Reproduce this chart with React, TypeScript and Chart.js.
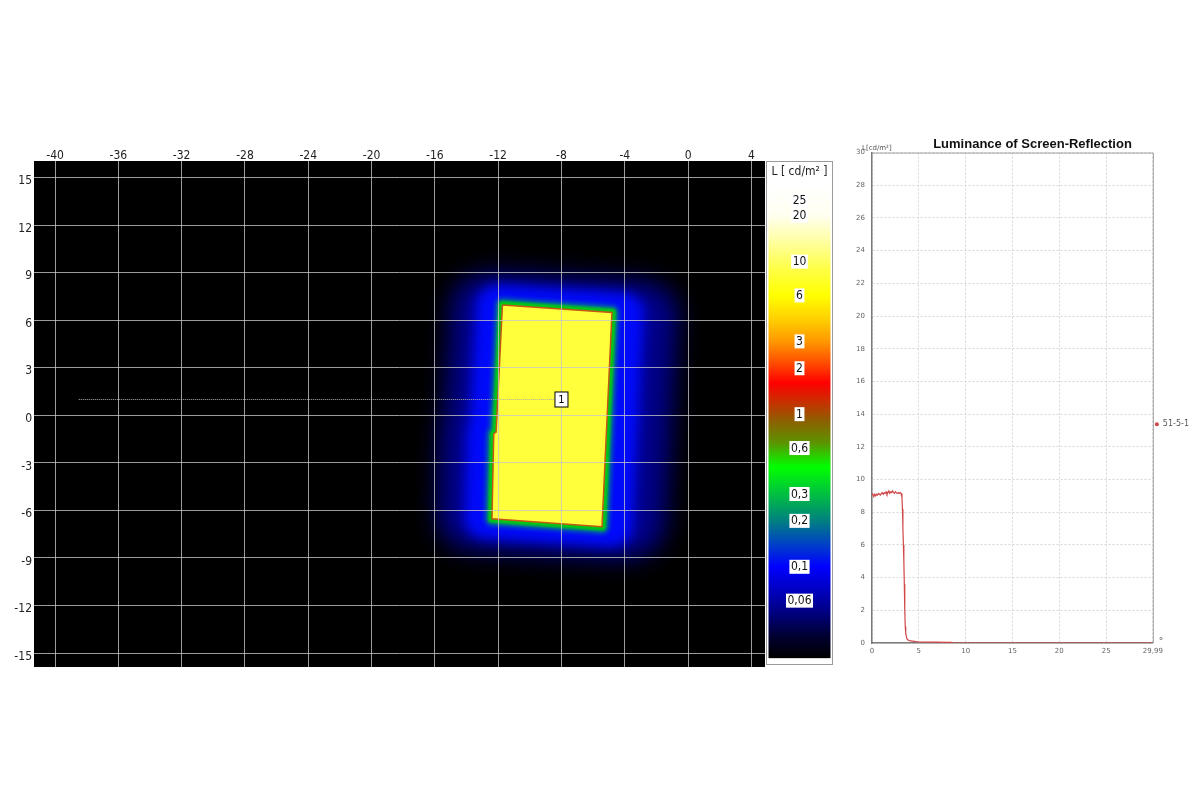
import React, { useEffect, useRef } from "react";
import { Chart, registerables } from "chart.js";

Chart.register(...registerables);

// ---------------- Left: luminance map (degrees) ----------------
const mapXTicks = [-40, -36, -32, -28, -24, -20, -16, -12, -8, -4, 0, 4];
const mapYTicks = [15, 12, 9, 6, 3, 0, -3, -6, -9, -12, -15];
const mapXMin = -41.33;
const mapXMax = 4.86;
const mapYMin = -15.88;
const mapYMax = 16.05;

// outline of the bright screen reflection
const screenX = [-11.73, -4.81, -5.44, -12.39, -12.28, -12.13, -11.73];
const screenY = [6.96, 6.49, -7.03, -6.53, -1.16, -1.06, 6.96];

// measurement line "1"
const lineX = [-38.5, -8];
const lineY = [1.0, 1.0];
const lineLabel = "1";

// colour bar (logarithmic luminance scale)
const cbTitle = "L [ cd/m\u00B2 ]";
const cbMin = 0.02205;
const cbMax = 45.6;
const cbTickValues = [25, 20, 10, 6, 3, 2, 1, 0.6, 0.3, 0.2, 0.1, 0.06];
const cbTickLabels = ["25", "20", "10", "6", "3", "2", "1", "0,6", "0,3", "0,2", "0,1", "0,06"];
const cbStopValues = [32, 20, 14, 9, 6, 4.2, 3, 2.2, 1.6, 1.2, 0.9, 0.65, 0.45, 0.3, 0.2, 0.14, 0.1, 0.07, 0.05, 0.035, 0.0252];
const cbStopColors = ["#ffffff", "#fffff0", "#ffffa8", "#ffff48", "#ffff00", "#ffd000", "#ff9800", "#ff5000", "#ff0000", "#c83000", "#8c6000", "#5c9400", "#00ff00", "#00c040", "#008080", "#0040c8", "#0000ff", "#0000c0", "#000080", "#000030", "#000000"];

// ---------------- Right: luminance profile ----------------
const profileTitle = "Luminance of Screen-Reflection";
const profileSeries = "51-5-1";
const profileYTitle = "L[cd/m\u00B2]";
const profileXUnit = "\u00B0";
const profileX = [0, 0.1, 0.2, 0.3, 0.4, 0.5, 0.6, 0.7, 0.8, 0.9, 1.0, 1.1, 1.2, 1.3, 1.4, 1.5, 1.6, 1.7, 1.8, 1.9, 2.0, 2.1, 2.2, 2.3, 2.4, 2.5, 2.6, 2.7, 2.8, 2.9, 3.0, 3.1, 3.2, 3.25, 3.3, 3.35, 3.4, 3.45, 3.5, 3.55, 3.6, 3.7, 3.8, 4.0, 4.3, 4.7, 5.0, 6.0, 7.0, 8.0, 8.5, 8.7, 10, 15, 20, 25, 29.99];
const profileY = [9.15, 9.05, 8.95, 9.1, 9.0, 9.1, 9.05, 9.15, 9.1, 9.05, 9.15, 9.2, 9.1, 9.2, 9.15, 9.25, 9.1, 9.2, 9.3, 9.15, 9.25, 9.2, 9.3, 9.2, 9.15, 9.25, 9.2, 9.15, 9.2, 9.15, 9.2, 9.15, 8.9, 8.2, 7.0, 6.0, 5.0, 3.6, 2.0, 1.0, 0.6, 0.3, 0.2, 0.15, 0.12, 0.08, 0.06, 0.05, 0.05, 0.04, 0.04, 0, 0, 0, 0, 0, 0];
const profileXTicks = [0, 5, 10, 15, 20, 25, 29.99];
const profileXTickLabels = ["0", "5", "10", "15", "20", "25", "29,99"];
const profileYMin = 0;
const profileYMax = 30;
const profileYStep = 2;

const FONT = "'DejaVu Sans Condensed', 'DejaVu Sans', sans-serif";
const SMALL = "'DejaVu Sans', sans-serif";

const glowLayers = [
  { sx: 1.3, width: 64, blur: 12, color: "rgb(0,0,140)" },
  { sx: 1.12, width: 40, blur: 6, color: "rgb(0,10,250)" },
  { sx: 1.0, width: 14, blur: 2, color: "rgb(0,110,150)" },
  { sx: 1.0, width: 8, blur: 1, color: "rgb(0,200,20)" },
];

const mapPlugin = {
  id: "mapPlugin",
  beforeDraw(chart: any) {
    const { ctx, chartArea: a } = chart;
    ctx.save();
    ctx.fillStyle = "#000";
    ctx.fillRect(a.left, a.top, a.right - a.left, a.bottom - a.top);
    ctx.restore();
  },
  beforeDatasetsDraw(chart: any) {
    const { ctx, chartArea: a } = chart;
    const meta = chart.getDatasetMeta(0);
    const pts = meta.data.map((p: any) => ({ x: p.x, y: p.y }));
    if (!pts.length) return;
    let cx = 0, cy = 0;
    const n = pts.length - 1;
    for (let i = 0; i < n; i++) { cx += pts[i].x; cy += pts[i].y; }
    cx /= n; cy /= n;
    const path = () => {
      ctx.beginPath();
      pts.forEach((p: any, i: number) => (i ? ctx.lineTo(p.x, p.y) : ctx.moveTo(p.x, p.y)));
      ctx.closePath();
    };
    ctx.save();
    ctx.beginPath();
    ctx.rect(a.left, a.top, a.right - a.left, a.bottom - a.top);
    ctx.clip();
    for (const l of glowLayers) {
      ctx.save();
      ctx.translate(cx, cy);
      ctx.scale(l.sx, 1);
      ctx.translate(-cx, -cy);
      ctx.filter = `blur(${l.blur}px)`;
      ctx.fillStyle = l.color;
      ctx.strokeStyle = l.color;
      ctx.lineWidth = l.width;
      ctx.lineJoin = "round";
      path();
      ctx.fill();
      ctx.stroke();
      ctx.restore();
    }
    ctx.restore();
  },
  afterDraw(chart: any) {
    const { ctx, chartArea: a } = chart;
    const s = chart.scales.cb;
    ctx.save();
    // measurement label box
    const lm = chart.getDatasetMeta(1);
    const last = lm.data[lm.data.length - 1];
    if (last) {
      ctx.font = `11px ${FONT}`;
      ctx.fillStyle = "#fff";
      ctx.fillRect(last.x - 6.5, last.y - 7.5, 13, 15);
      ctx.strokeStyle = "#000";
      ctx.lineWidth = 1;
      ctx.strokeRect(last.x - 6.5, last.y - 7.5, 13, 15);
      ctx.fillStyle = "#000";
      ctx.textAlign = "center";
      ctx.textBaseline = "middle";
      ctx.fillText(lineLabel, last.x, last.y + 0.5);
    }
    // colour bar
    const x0 = a.right + 1.5, x1 = a.right + 67.5;
    const top = a.top + 0.5, bottom = a.bottom - 2.5;
    ctx.fillStyle = "#fff";
    ctx.fillRect(x0, top, x1 - x0, bottom - top);
    const gTop = s.getPixelForValue(cbStopValues[0]);
    const gBot = s.getPixelForValue(cbStopValues[cbStopValues.length - 1]);
    const grad = ctx.createLinearGradient(0, gTop, 0, gBot);
    cbStopValues.forEach((v, i) => {
      const f = (s.getPixelForValue(v) - gTop) / (gBot - gTop);
      grad.addColorStop(Math.min(1, Math.max(0, f)), cbStopColors[i]);
    });
    ctx.fillStyle = grad;
    ctx.fillRect(x0 + 2, gTop, x1 - x0 - 4, gBot - gTop);
    ctx.strokeStyle = "#9a9a9a";
    ctx.lineWidth = 1;
    ctx.strokeRect(x0, top, x1 - x0, bottom - top);
    ctx.font = `12px ${FONT}`;
    ctx.textAlign = "center";
    ctx.textBaseline = "middle";
    ctx.fillStyle = "#222";
    const cx = (x0 + x1) / 2;
    ctx.fillText(cbTitle, cx, a.top + 11);
    cbTickValues.forEach((v, i) => {
      const y = s.getPixelForValue(v);
      const t = cbTickLabels[i];
      const w = ctx.measureText(t).width;
      ctx.fillStyle = "#fff";
      ctx.fillRect(cx - w / 2 - 1.5, y - 7, w + 3, 14);
      ctx.fillStyle = "#111";
      ctx.fillText(t, cx, y + 0.5);
    });
    ctx.restore();
  },
};

const profilePlugin = {
  id: "profilePlugin",
  afterDraw(chart: any) {
    const { ctx, chartArea: a } = chart;
    ctx.save();
    ctx.strokeStyle = "#a0a0a0";
    ctx.lineWidth = 1;
    ctx.beginPath();
    ctx.moveTo(a.left, a.top + 0.5);
    ctx.lineTo(a.right + 0.5, a.top + 0.5);
    ctx.lineTo(a.right + 0.5, a.bottom);
    ctx.stroke();
    ctx.fillStyle = "#555";
    ctx.font = `7px ${SMALL}`;
    ctx.textAlign = "left";
    ctx.textBaseline = "alphabetic";
    ctx.fillText(profileYTitle, a.left - 10, a.top - 3);
    ctx.font = `9px ${SMALL}`;
    ctx.fillText(profileXUnit, a.right + 6, a.bottom + 1);
    ctx.restore();
  },
};

function MapChart() {
  const ref = useRef<HTMLCanvasElement>(null);
  useEffect(() => {
    const chart = new Chart(ref.current as HTMLCanvasElement, {
      type: "scatter",
      data: {
        datasets: [
          {
            data: screenX.map((x, i) => ({ x, y: screenY[i] })),
            showLine: true,
            fill: "shape",
            backgroundColor: "#ffff3c",
            borderColor: "rgb(196,88,20)",
            borderWidth: 1.5,
            pointRadius: 0,
            order: 1,
          },
          {
            data: lineX.map((x, i) => ({ x, y: lineY[i] })),
            showLine: true,
            fill: false,
            borderColor: "rgb(175,175,175)",
            borderDash: [1, 1],
            borderWidth: 1,
            pointRadius: 0,
            order: 0,
          },
        ],
      } as any,
      options: {
        responsive: false,
        animation: false,
        layout: { padding: { left: 0, right: 75, top: 0, bottom: 21 } },
        plugins: { legend: { display: false }, tooltip: { enabled: false } },
        scales: {
          x: {
            type: "linear",
            position: "top",
            min: mapXMin,
            max: mapXMax,
            afterBuildTicks: (s: any) => { s.ticks = mapXTicks.map((v) => ({ value: v })); },
            afterFit: (s: any) => { s.height = 33; },
            grid: { color: "rgba(200,200,200,0.78)", lineWidth: 1, drawTicks: false, z: 1 },
            border: { display: false },
            ticks: { font: { family: FONT, size: 12 }, color: "#222", padding: -2, maxRotation: 0, autoSkip: false },
          },
          y: {
            type: "linear",
            position: "left",
            min: mapYMin,
            max: mapYMax,
            afterBuildTicks: (s: any) => { s.ticks = mapYTicks.map((v) => ({ value: v })); },
            afterFit: (s: any) => { s.width = 34; },
            grid: { color: "rgba(200,200,200,0.78)", lineWidth: 1, drawTicks: false, z: 1 },
            border: { display: false },
            ticks: { font: { family: FONT, size: 12 }, color: "#222", padding: 2, labelOffset: 3.5, autoSkip: false },
          },
          cb: {
            type: "logarithmic",
            position: "right",
            display: false,
            min: cbMin,
            max: cbMax,
            bounds: "data",
          },
        },
      } as any,
      plugins: [mapPlugin],
    });
    return () => chart.destroy();
  }, []);
  return <canvas ref={ref} width={840} height={560} style={{ position: "absolute", left: 0, top: 128 }} />;
}

function ProfileChart() {
  const ref = useRef<HTMLCanvasElement>(null);
  useEffect(() => {
    const chart = new Chart(ref.current as HTMLCanvasElement, {
      type: "scatter",
      data: {
        datasets: [
          {
            label: profileSeries,
            data: profileX.map((x, i) => ({ x, y: profileY[i] })),
            showLine: true,
            borderColor: "rgb(208,70,70)",
            backgroundColor: "rgb(208,70,70)",
            borderWidth: 1.2,
            pointRadius: 0,
            pointStyle: "circle",
          },
        ],
      } as any,
      options: {
        responsive: false,
        animation: false,
        layout: { padding: 0 },
        plugins: {
          title: {
            display: true,
            text: profileTitle,
            font: { family: "'Liberation Sans', Arial, sans-serif", size: 13, weight: "bold" },
            color: "#111",
            padding: { top: 9, bottom: 0 },
          },
          legend: {
            position: "right",
            align: "center",
            title: { display: true, text: " ", padding: { top: 0, bottom: 48 }, font: { size: 8 } },
            labels: {
              usePointStyle: true,
              boxWidth: 4,
              boxHeight: 2,
              padding: 2,
              font: { family: SMALL, size: 8 },
              color: "#555",
            },
          },
          tooltip: { enabled: false },
        },
        scales: {
          x: {
            type: "linear",
            min: 0,
            max: 29.99,
            afterBuildTicks: (s: any) => { s.ticks = profileXTicks.map((v) => ({ value: v })); },
            afterFit: (s: any) => { s.height = 20; },
            grid: { color: "#d6d6d6", drawTicks: false },
            border: { display: true, color: "#7a7a7a", width: 1.5, dash: [2, 2] },
            ticks: {
              font: { family: SMALL, size: 7 },
              color: "#666",
              padding: 4,
              maxRotation: 0,
              autoSkip: false,
              callback: (v: any) => {
                const i = profileXTicks.indexOf(Number(v));
                return i >= 0 ? profileXTickLabels[i] : "";
              },
            },
          },
          y: {
            type: "linear",
            min: profileYMin,
            max: profileYMax,
            afterFit: (s: any) => { s.width = 27; },
            grid: { color: "#d6d6d6", drawTicks: false },
            border: { display: true, color: "#7a7a7a", width: 1.5, dash: [2, 2] },
            ticks: { stepSize: profileYStep, font: { family: SMALL, size: 7 }, color: "#666", padding: 7 },
          },
          margin: {
            type: "linear",
            position: "right",
            weight: 2000,
            display: true,
            afterFit: (s: any) => { s.width = 21; },
            ticks: { display: false },
            grid: { display: false, drawOnChartArea: false, drawTicks: false },
            border: { display: false },
          },
        },
      } as any,
      plugins: [profilePlugin],
    });
    return () => chart.destroy();
  }, []);
  return <canvas ref={ref} width={375} height={535} style={{ position: "absolute", left: 845, top: 128 }} />;
}

export default function App() {
  return (
    <div style={{ position: "fixed", left: 0, top: 0, width: 1200, height: 808, background: "#fff", overflow: "hidden" }}>
      <MapChart />
      <ProfileChart />
    </div>
  );
}
